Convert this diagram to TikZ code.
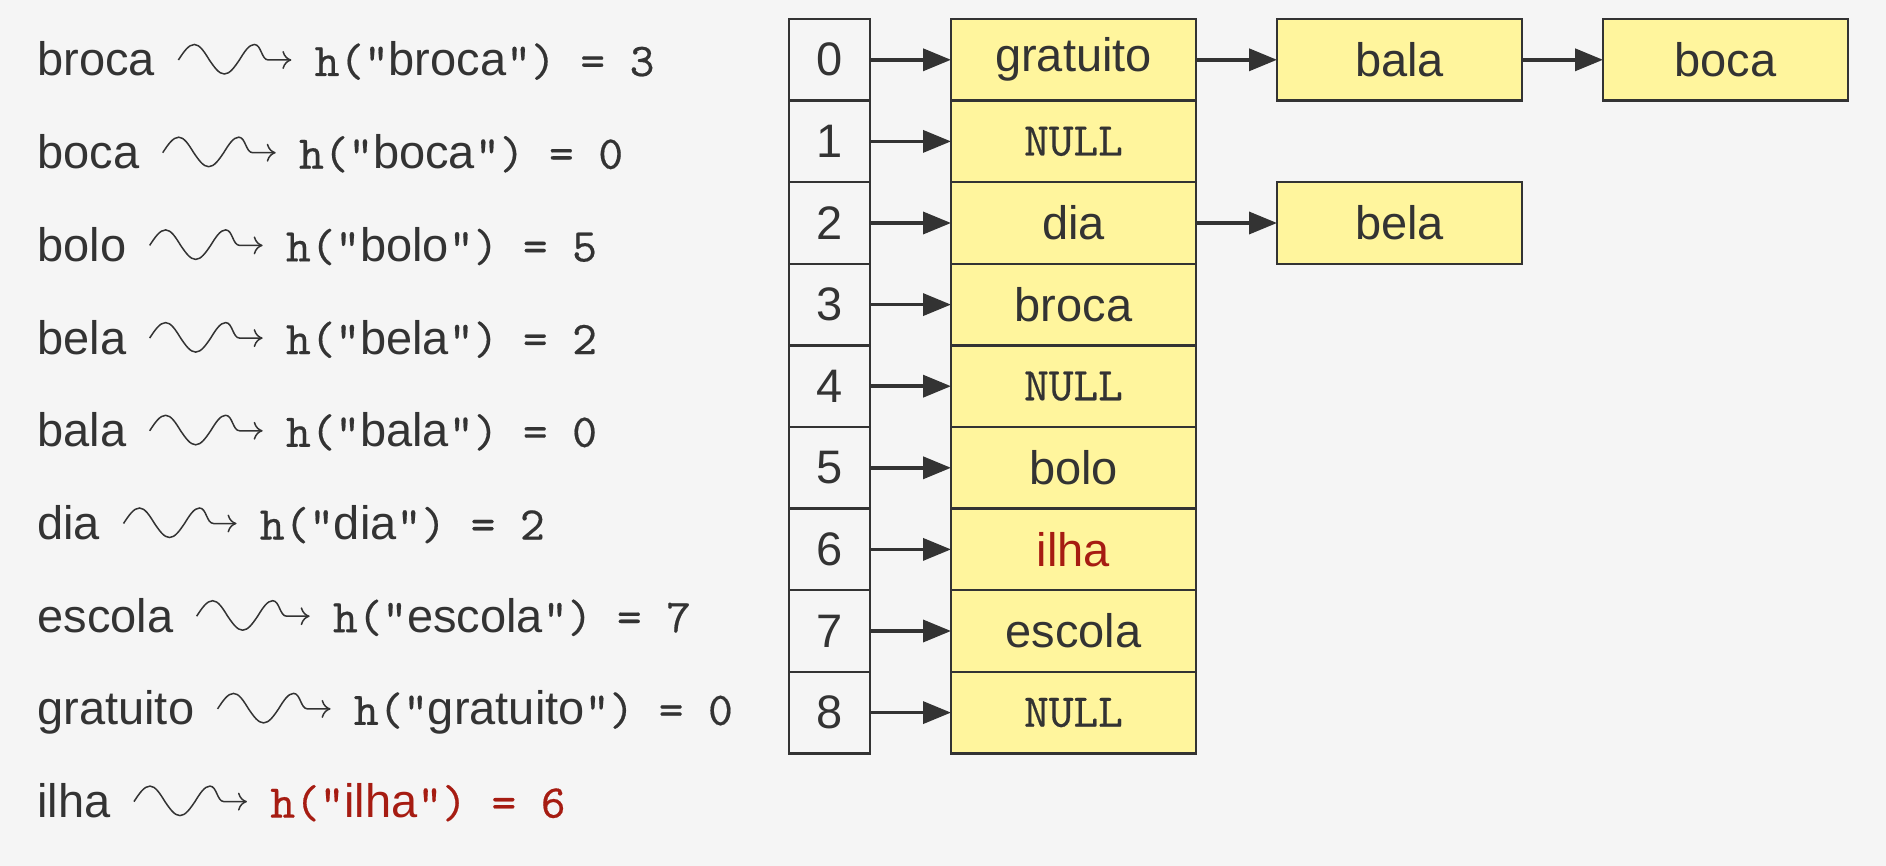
\documentclass[tikz,border=0pt]{standalone}
\usepackage{fontspec}
\setmainfont{Liberation Sans}
\setmonofont{lmmono10-regular.otf}[FakeBold=0.4]
\usetikzlibrary{arrows.meta,calc,positioning}

\definecolor{bg}{HTML}{F5F5F5}
\definecolor{cellfill}{HTML}{FFF59D}
\definecolor{ink}{HTML}{333333}
\definecolor{hot}{HTML}{A61C12}

\tikzset{
    word/.style={inner sep=0pt, text=ink, font=\fontsize{23.5}{28}\selectfont},
    hash/.style={inner sep=0pt, font=\fontsize{23.5}{28}\selectfont\ttfamily},
    slot/.style={draw=ink, line width=1.2pt, fill=bg, outer sep=0pt, inner sep=0pt,
        minimum width=40.5pt, minimum height=40.8pt, text=ink,
        font=\fontsize{23.5}{28}\selectfont},
    cell/.style={slot, fill=cellfill, minimum width=122.5pt},
    link/.style={draw=ink, line width=1.8pt, -{Triangle[length=14pt,width=11pt]}},
    squig/.style={draw=ink, line width=0.75pt, -{To[length=4.5pt,width=9pt]}},
}

\begin{document}
\begin{tikzpicture}[x=0.5pt, y=-0.5pt]
    \def\R{81.6} % row height
    \fill[bg] (0,0) rectangle (1886,866);
    \useasboundingbox (0,0) rectangle (1886,866);

    % keys and their hash values
    \foreach[count=\i] \w/\h/\c in {broca/3/ink, boca/0/ink, bolo/5/ink, bela/2/ink,
            bala/0/ink, dia/2/ink, escola/7/ink, gratuito/0/ink, ilha/6/hot} {
        \node[word, anchor=base west] (w\i) at (37, 76+92.7*\i-92.7) {\w};
        \draw[squig] ($(w\i.base east)+(23,-16)$) sin ++(16,-15.5) cos ++(15,15.5)
            sin ++(15,14) cos ++(15,-14) sin ++(15,-15.5)
            .. controls +(7,0) and +(-7,0) .. ++(14,15.5)
            -- ++(23,0) coordinate (s\i);
        \node[hash, text=\c, anchor=base west] (h\i) at ($(w\i.base -| s\i)+(23,0)$)
            {h("\textrm{\w}") = \h};
    }

    % table
    \foreach \i in {0,...,8}
        \node[slot] (i\i) at (829.5, 19+\R*\i+\R/2) {\i};
    \foreach[count=\i from 0] \v in {gratuito, \texttt{NULL}, dia, broca, \texttt{NULL},
            bolo, \textcolor{hot}{ilha}, escola, \texttt{NULL}} {
        \node[cell] (c\i) at (1073.5, 19+\R*\i+\R/2) {\v};
        \draw[link] (i\i) -- (c\i);
    }

    % chained entries
    \node[cell, right=40.5pt of c0] (bala) {bala};
    \node[cell, right=40.5pt of bala] (boca) {boca};
    \node[cell, right=40.5pt of c2] (bela) {bela};
    \draw[link] (c0) -- (bala);
    \draw[link] (bala) -- (boca);
    \draw[link] (c2) -- (bela);
\end{tikzpicture}
\end{document}
